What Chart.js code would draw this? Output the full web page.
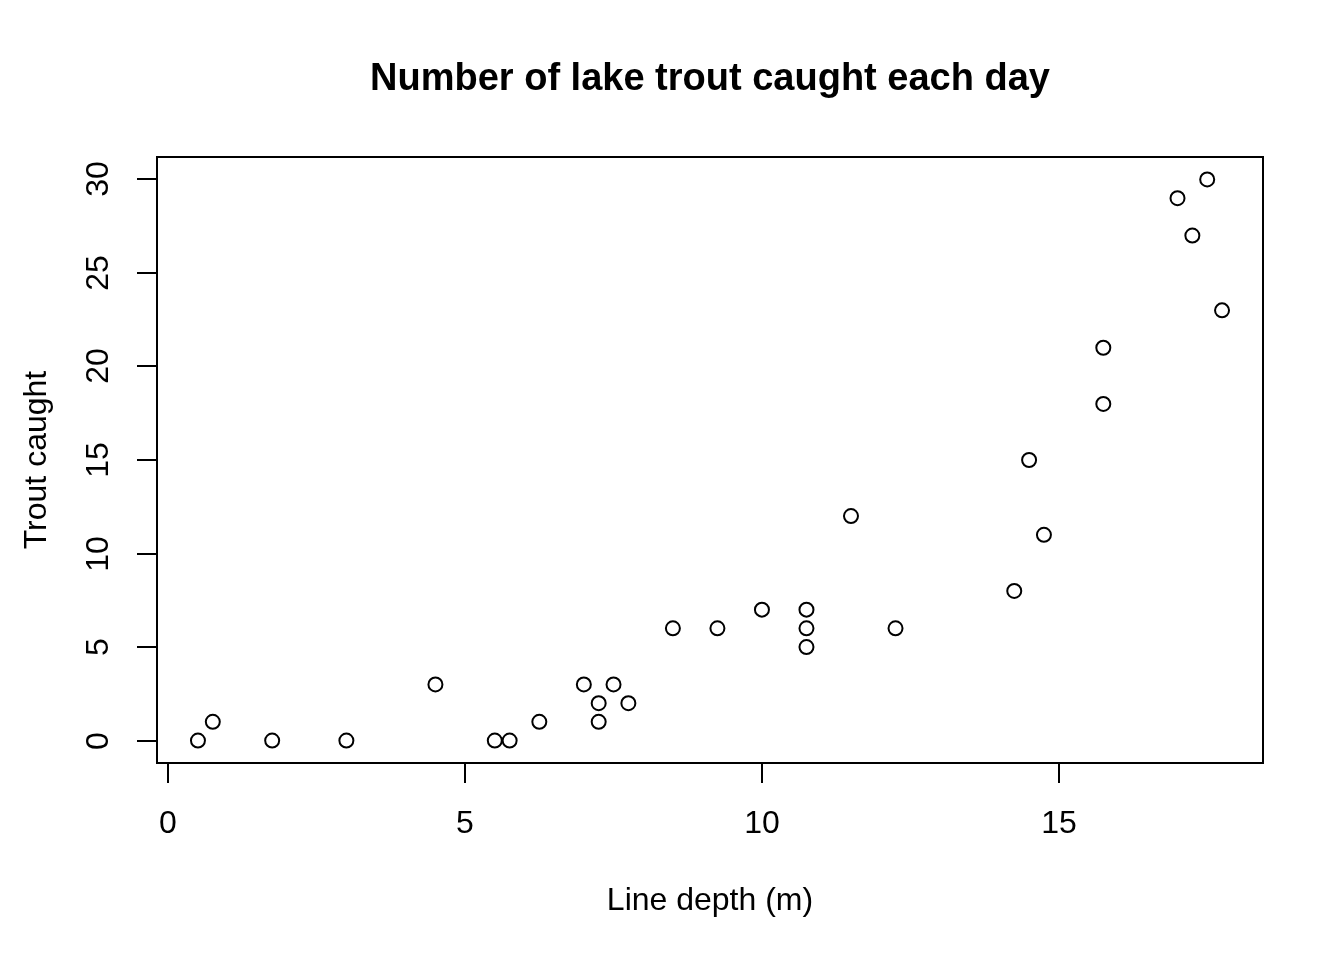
<!DOCTYPE html>
<html>
<head>
<meta charset="utf-8">
<script src="https://cdn.jsdelivr.net/npm/chart.js@4"></script>
<style>
  html, body { margin: 0; padding: 0; background: #fff; }
  #wrap { width: 1344px; height: 960px; }
</style>
</head>
<body>
<div id="wrap"><canvas id="troutChart" width="1344" height="960"></canvas></div>
<script>
const depth = [0.5, 0.75, 1.75, 3, 4.5, 5.5, 5.75, 6.25, 7, 7.25, 7.25, 7.5, 7.75, 8.5, 9.25,
               10, 10.75, 10.75, 10.75, 11.5, 12.25, 14.25, 14.5, 14.75, 15.75, 15.75, 17, 17.25, 17.5, 17.75];
const caught = [0, 1, 0, 0, 3, 0, 0, 1, 3, 2, 1, 3, 2, 6, 6,
                7, 7, 6, 5, 12, 6, 8, 15, 11, 21, 18, 29, 27, 30, 23];
const xTicks = [0, 5, 10, 15];
const yTicks = [0, 5, 10, 15, 20, 25, 30];

const titleText = 'Number of lake trout caught each day';
const xTitle = 'Line depth (m)';
const yTitle = 'Trout caught';

const fontFam = '"Liberation Sans", Arial, Helvetica, sans-serif';

// draws the R style box, ticks, labels and titles
const rAxes = {
    id: 'rAxes',
    afterDraw(chart) {
        const { ctx, chartArea: a, scales } = chart;
        const x = scales.x, y = scales.y;
        ctx.save();
        ctx.strokeStyle = '#000';
        ctx.fillStyle = '#000';
        ctx.lineWidth = 2;
        ctx.strokeRect(a.left, a.top, a.right - a.left, a.bottom - a.top);

        ctx.font = '32px ' + fontFam;
        ctx.textAlign = 'center';
        ctx.textBaseline = 'middle';
        x.ticks.forEach(t => {
            const px = Math.round(x.getPixelForValue(t.value));
            ctx.beginPath();
            ctx.moveTo(px, a.bottom);
            ctx.lineTo(px, a.bottom + 20);
            ctx.stroke();
            ctx.fillText(String(t.value), px, a.bottom + 61);
        });
        y.ticks.forEach(t => {
            const py = Math.round(y.getPixelForValue(t.value));
            ctx.beginPath();
            ctx.moveTo(a.left, py);
            ctx.lineTo(a.left - 20, py);
            ctx.stroke();
            ctx.save();
            ctx.translate(a.left - 58, py);
            ctx.rotate(-Math.PI / 2);
            ctx.fillText(String(t.value), 0, 0);
            ctx.restore();
        });

        const cx = (a.left + a.right) / 2;
        ctx.fillText(xTitle, cx, a.bottom + 138);
        ctx.save();
        ctx.translate(a.left - 120, (a.top + a.bottom) / 2);
        ctx.rotate(-Math.PI / 2);
        ctx.fillText(yTitle, 0, 0);
        ctx.restore();

        ctx.font = 'bold 38px ' + fontFam;
        ctx.fillText(titleText, cx, 80);
        ctx.restore();
    }
};

new Chart(document.getElementById('troutChart'), {
    type: 'scatter',
    data: {
        datasets: [{
            label: 'Trout caught',
            data: depth.map((d, i) => ({ x: d, y: caught[i] })),
            pointRadius: 7,
            pointHoverRadius: 7,
            pointBorderWidth: 2,
            pointBorderColor: '#000',
            pointBackgroundColor: 'rgba(0,0,0,0)',
        }],
    },
    options: {
        responsive: false,
        animation: false,
        events: [],
        layout: { padding: { left: 157, right: 81, top: 157, bottom: 197 } },
        plugins: {
            legend: { display: false },
            tooltip: { enabled: false },
        },
        scales: {
            x: {
                type: 'linear',
                min: -0.19,
                max: 18.44,
                afterBuildTicks: s => { s.ticks = xTicks.map(v => ({ value: v })); },
                ticks: { display: false },
                grid: { display: false, drawTicks: false },
                border: { display: false },
            },
            y: {
                type: 'linear',
                min: -1.2,
                max: 31.2,
                afterBuildTicks: s => { s.ticks = yTicks.map(v => ({ value: v })); },
                ticks: { display: false },
                grid: { display: false, drawTicks: false },
                border: { display: false },
            },
        },
    },
    plugins: [rAxes],
});
</script>
</body>
</html>
